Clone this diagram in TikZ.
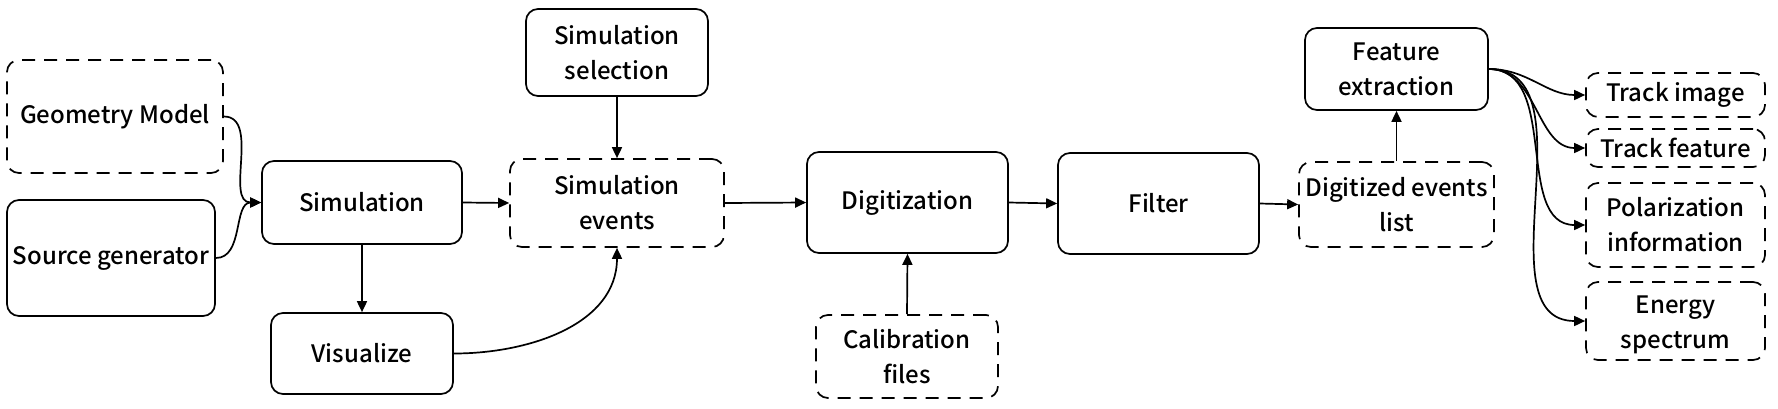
\documentclass[tikz,border=0pt]{standalone}
\usepackage{fontspec}
\setmainfont{Noto Sans CJK SC Medium}
\usetikzlibrary{arrows.meta}
\begin{document}
\begin{tikzpicture}[x=1pt,y=-1pt,
  box/.style={draw, line width=1.7pt, rounded corners=12pt, align=center, inner sep=2pt,
    font=\fontsize{24}{35}\selectfont, text=black},
  dbox/.style={box, dash pattern=on 13pt off 9pt},
  arr/.style={line width=1.7pt, -{Triangle[length=11pt,width=10pt]}}
]
\useasboundingbox (0,0) rectangle (1778,408);
\node[dbox, minimum width=216pt, minimum height=113pt] (geom) at (115,116.5) {Geometry Model};
\node[box, minimum width=208pt, minimum height=116pt] (src) at (111,258) {Source generator};
\node[box, minimum width=200pt, minimum height=83pt] (sim) at (362,202.5) {Simulation};
\node[box, minimum width=182pt, minimum height=81pt] (vis) at (362,353.5) {Visualize};
\node[box, minimum width=182pt, minimum height=87pt] (sel) at (617,52.5) {Simulation\\selection};
\node[dbox, minimum width=214pt, minimum height=88pt] (simev) at (617,203) {Simulation\\events};
\node[box, minimum width=201pt, minimum height=101pt] (digi) at (907.5,202.5) {Digitization};
\node[dbox, minimum width=182pt, minimum height=83pt] (calib) at (907,356.5) {Calibration\\files};
\node[box, minimum width=201pt, minimum height=101pt] (filter) at (1158.5,203.5) {Filter};
\node[dbox, minimum width=195pt, minimum height=85pt] (dlist) at (1396.5,204.5) {Digitized events\\list};
\node[box, minimum width=183pt, minimum height=82pt] (feat) at (1396.5,69) {Feature\\extraction};
\node[dbox, minimum width=179pt, minimum height=44pt] (trimg) at (1675.5,95) {Track image};
\node[dbox, minimum width=179pt, minimum height=38pt] (trfeat) at (1675.5,148) {Track feature};
\node[dbox, minimum width=179pt, minimum height=84pt] (pol) at (1675.5,225) {Polarization\\information};
\node[dbox, minimum width=179pt, minimum height=78pt] (energy) at (1675.5,321) {};
\node[font=\fontsize{24}{35}\selectfont, text=black, align=center] (energyt) at (1675.5,325) {Energy\\spectrum};

\draw[arr] (geom.east) to[out=0,in=180] (sim.west);
\draw[arr] (src.east) to[out=0,in=180] (sim.west);
\draw[arr] (sim.south) -- (vis.north);
\draw[arr] (sim.east) -- (simev.west);
\draw[arr] (sel.south) -- (simev.north);
\draw[arr] (vis.east) to[out=0,in=-90] (simev.south);
\draw[arr] (simev.east) -- (digi.west);
\draw[arr] (calib.north) -- (digi.south);
\draw[arr] (digi.east) -- (filter.west);
\draw[arr] (filter.east) -- (dlist.west);
\draw[arr] (dlist.north) -- (feat.south);
\draw[arr] (feat.east) to[out=0,in=180] (trimg.west);
\draw[arr] (feat.east) to[out=0,in=180] (trfeat.west);
\draw[arr] (feat.east) to[out=0,in=180] (pol.west);
\draw[arr] (feat.east) to[out=0,in=180] (energy.west);
\end{tikzpicture}
\end{document}
